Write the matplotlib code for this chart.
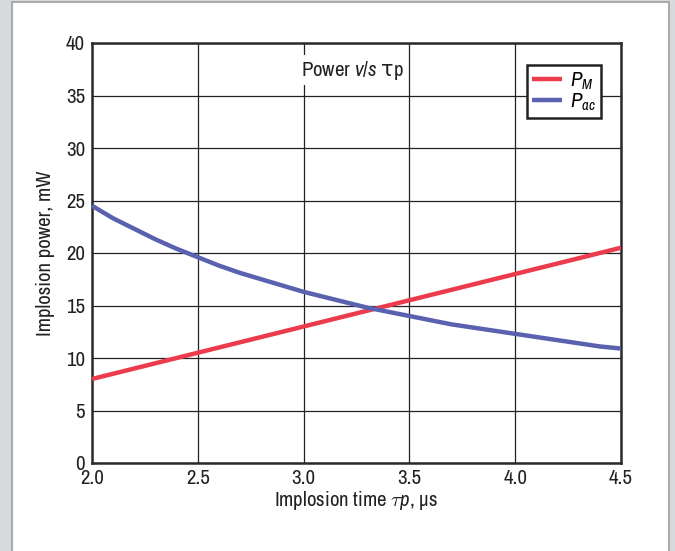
import matplotlib
matplotlib.use("Agg")
import matplotlib.pyplot as plt
from matplotlib import font_manager
from matplotlib.patches import Rectangle

names = {f.name for f in font_manager.fontManager.ttflist}
base = next((n for n in ("Archivo Narrow", "Roboto Condensed", "PT Sans Narrow", "Liberation Sans")
             if n in names), "DejaVu Sans")
plt.rcParams["font.family"] = [base, "DejaVu Sans"]
plt.rcParams["mathtext.fontset"] = "custom"
plt.rcParams["mathtext.rm"] = base
plt.rcParams["mathtext.it"] = base + ":italic"
plt.rcParams["mathtext.bf"] = base + ":bold"
plt.rcParams["mathtext.sf"] = "DejaVu Sans"

# Implosion time (us) and power (mW)
tau_p = [2.0, 2.1, 2.2, 2.3, 2.4, 2.5, 2.6, 2.7, 2.8, 2.9, 3.0, 3.1, 3.2,
         3.3, 3.4, 3.5, 3.6, 3.7, 3.8, 3.9, 4.0, 4.1, 4.2, 4.3, 4.4, 4.5]
p_m = [8.0, 8.5, 9.0, 9.5, 10.0, 10.5, 11.0, 11.5, 12.0, 12.5, 13.0, 13.5, 14.0,
       14.5, 15.0, 15.5, 16.0, 16.5, 17.0, 17.5, 18.0, 18.5, 19.0, 19.5, 20.0, 20.5]
p_ac = [24.5, 23.3, 22.3, 21.3, 20.4, 19.6, 18.8, 18.1, 17.5, 16.9, 16.3, 15.8, 15.3,
        14.8, 14.4, 14.0, 13.6, 13.2, 12.9, 12.6, 12.3, 12.0, 11.7, 11.4, 11.1, 10.9]

x_ticks = [2.0, 2.5, 3.0, 3.5, 4.0, 4.5]
y_ticks = [0, 5, 10, 15, 20, 25, 30, 35, 40]

red = "#ec3b4c"
blue = "#5a62b0"
ink = "#222222"

fig = plt.figure(figsize=(6.75, 5.51), dpi=100, facecolor="#d7dbde")
# white panel with a thin grey frame
panel = Rectangle((12 / 675, -0.01), (669 - 12) / 675, 1 - 2 / 551 + 0.01,
                  transform=fig.transFigure, facecolor="white",
                  edgecolor="#a9abad", linewidth=1.5, zorder=-10)
fig.add_artist(panel)

ax = fig.add_axes([92 / 675, 88 / 551, (621 - 92) / 675, (463 - 43) / 551])
ax.set_zorder(5)
ax.set_facecolor("white")

ax.plot(tau_p, p_m, color=red, lw=3.2, label="$P_M$", solid_capstyle="butt", zorder=3)
ax.plot(tau_p, p_ac, color=blue, lw=3.2, label="$P_{ac}$", solid_capstyle="butt", zorder=3)

ax.set_xlim(2.0, 4.5)
ax.set_ylim(0, 40)
ax.set_xticks(x_ticks)
ax.set_xticklabels([f"{v:.1f}" for v in x_ticks])
ax.set_yticks(y_ticks)
ax.set_yticklabels([str(v) for v in y_ticks])
ax.grid(True, color=ink, lw=0.9, zorder=1)
ax.set_axisbelow(True)
ax.tick_params(length=0, labelsize=15, colors=ink)
ax.tick_params(axis="x", pad=4)
ax.tick_params(axis="y", pad=5)
for s in ax.spines.values():
    s.set_color("#2a2a2a")
    s.set_linewidth(1.8)

ax.set_xlabel(r"Implosion time $\mathit{\tau p}$, μs", fontsize=15, color=ink, labelpad=1)
ax.set_ylabel("Implosion power, mW", fontsize=15, color=ink, labelpad=8)

ax.text(3.23, 37.4, r"Power $\mathit{v/s}$ $\mathsf{\tau}$p", fontsize=15, ha="center", va="center",
        color=ink, zorder=4,
        bbox=dict(facecolor="white", edgecolor="none", pad=2.5))

leg = ax.legend(loc="upper right", bbox_to_anchor=(0.962, 0.947), fontsize=15,
                fancybox=False, framealpha=1, edgecolor=ink,
                handlelength=1.4, handletextpad=0.4, borderpad=0.25,
                labelspacing=0.0, borderaxespad=0)
leg.get_frame().set_linewidth(1.8)

fig.savefig("out.png", dpi=100, facecolor=fig.get_facecolor())
